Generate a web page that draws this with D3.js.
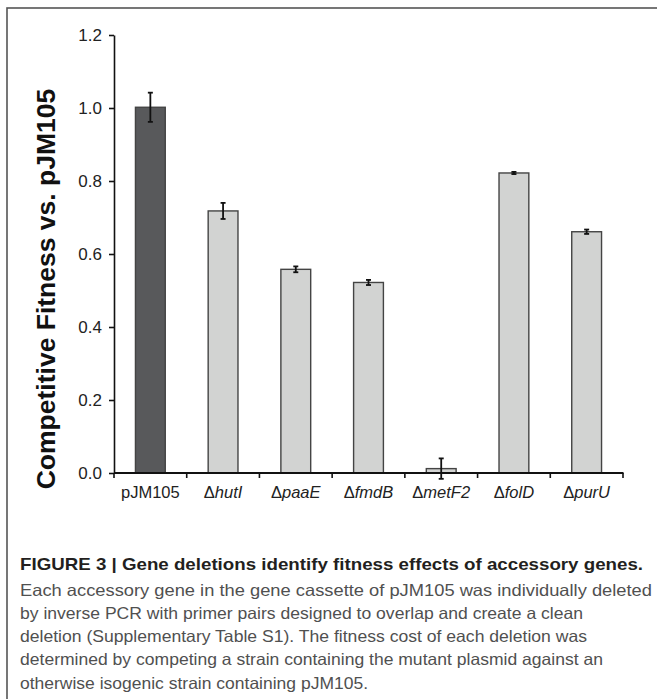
<!DOCTYPE html>
<html><head><meta charset="utf-8">
<script src="https://cdn.jsdelivr.net/npm/d3@7"></script>
<style>body{margin:0;background:#fff}svg{display:block}</style>
</head><body>
<svg id="c" width="657" height="699"></svg>
<script>
const categories = ["pJM105","hutI","paaE","fmdB","metF2","folD","purU"];
const isDeletion = [false,true,true,true,true,true,true];
const values = [1.002,0.718,0.558,0.522,0.012,0.822,0.661];
const errors = [0.040,0.022,0.008,0.007,0.028,0.003,0.006];
const yTicks = [0,0.2,0.4,0.6,0.8,1.0,1.2];
const yLabel = "Competitive Fitness vs. pJM105";
const captionTitle = "FIGURE 3 | Gene deletions identify fitness effects of accessory genes.";
const captionLines = [
 "Each accessory gene in the gene cassette of pJM105 was individually deleted",
 "by inverse PCR with primer pairs designed to overlap and create a clean",
 "deletion (Supplementary Table S1). The fitness cost of each deletion was",
 "determined by competing a strain containing the mutant plasmid against an",
 "otherwise isogenic strain containing pJM105."
];

const svg = d3.select("#c");
svg.append("rect").attr("x",7).attr("y",8).attr("width",660).attr("height",700)
  .attr("fill","none").attr("stroke","#555").attr("stroke-width",1.6);

const x = d3.scaleBand().domain(categories).range([114,623]).paddingInner(0.59).paddingOuter(0.295);
const y = d3.scaleLinear().domain([0,1.2]).range([473,35]);
const font = "'Liberation Sans', Arial, sans-serif";

// bars
svg.selectAll("rect.bar").data(categories).enter().append("rect")
  .attr("x",d=>x(d)).attr("width",x.bandwidth())
  .attr("y",(d,i)=>y(values[i])).attr("height",(d,i)=>y(0)-y(values[i]))
  .attr("fill",(d,i)=>isDeletion[i]?"#d2d3d2":"#58595b")
  .attr("stroke","#444").attr("stroke-width",1.4);

// error bars
const eg = svg.append("g").attr("stroke","#111").attr("stroke-width",1.8);
categories.forEach((d,i)=>{
  const cx = x(d)+x.bandwidth()/2;
  const y1 = y(values[i]+errors[i]), y2 = y(values[i]-errors[i]);
  eg.append("line").attr("x1",cx).attr("x2",cx).attr("y1",y1).attr("y2",y2);
  eg.append("line").attr("x1",cx-2.5).attr("x2",cx+2.5).attr("y1",y1).attr("y2",y1);
  eg.append("line").attr("x1",cx-2.5).attr("x2",cx+2.5).attr("y1",y2).attr("y2",y2);
});

// y axis
const ya = svg.append("g").attr("transform","translate(114,0)")
  .call(d3.axisLeft(y).tickValues(yTicks).tickFormat(d3.format(".1f")).tickSize(5).tickSizeOuter(0));
ya.select(".domain").attr("stroke","#111").attr("stroke-width",1.6);
ya.selectAll(".tick line").attr("stroke","#111").attr("stroke-width",1.6);
ya.selectAll(".tick text").attr("font-family",font).attr("font-size",17).attr("fill","#222").attr("x",-12);

// x axis
const xa = svg.append("g").attr("transform","translate(0,473)");
xa.append("line").attr("x1",114).attr("x2",623.5).attr("y1",0).attr("y2",0).attr("stroke","#111").attr("stroke-width",1.8);
const bounds = categories.map(d=>x(d)-x.step()*x.paddingInner()/2).concat([623]);
bounds[0]=114;
xa.selectAll("line.tk").data(bounds).enter().append("line")
  .attr("x1",d=>d).attr("x2",d=>d).attr("y1",0).attr("y2",5).attr("stroke","#111").attr("stroke-width",1.6);
categories.forEach((d,i)=>{
  const t = xa.append("text").attr("x",x(d)+x.bandwidth()/2).attr("y",25)
    .attr("text-anchor","middle").attr("font-family",font).attr("font-size",16.5).attr("fill","#222");
  if(isDeletion[i]){
    t.append("tspan").text("Δ");
    t.append("tspan").attr("font-style","italic").text(d);
  } else t.text(d);
});

// y label
svg.append("text").attr("transform","translate(55,289) rotate(-90)")
  .attr("text-anchor","middle").attr("font-family",font).attr("font-weight","bold")
  .attr("font-size",26.5).attr("fill","#111").text(yLabel);

// caption
svg.append("text").attr("x",20).attr("y",570).attr("font-family",font).attr("font-weight","bold")
  .attr("font-size",17).attr("fill","#231f20").attr("textLength",623).attr("lengthAdjust","spacingAndGlyphs")
  .text(captionTitle);
const capW = [632,563,567,583,348];
captionLines.forEach((l,i)=>{
  svg.append("text").attr("x",20).attr("y",595.5+i*23.3).attr("font-family",font)
    .attr("font-size",16.5).attr("fill","#505050").attr("textLength",capW[i]).attr("lengthAdjust","spacingAndGlyphs").text(l);
});
</script>
</body></html>
